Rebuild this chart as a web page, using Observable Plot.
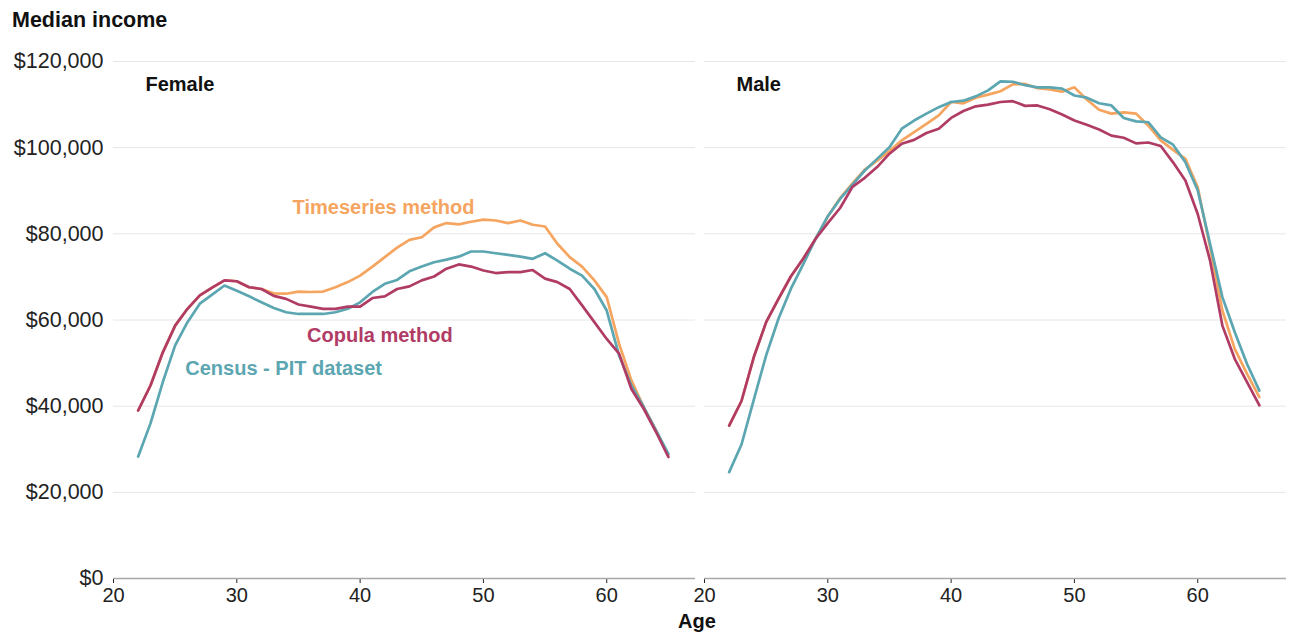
<!DOCTYPE html>
<html>
<head>
<meta charset="utf-8">
<script src="https://cdn.jsdelivr.net/npm/d3@7"></script>
<script src="https://cdn.jsdelivr.net/npm/@observablehq/plot@0.6"></script>
<style>
  html, body { margin: 0; padding: 0; background: #fff; }
  #wrap { position: relative; width: 1290px; height: 635px; font-family: "Liberation Sans", Arial, sans-serif; }
  #title { position: absolute; left: 12px; top: 8px; font-size: 21.5px; font-weight: bold; color: #111; }
  #xlabel { position: absolute; left: 697px; top: 610px; transform: translateX(-50%); font-size: 20px; font-weight: bold; color: #111; }
</style>
</head>
<body>
<div id="wrap">
  <div id="chart"></div>
  <div id="title">Median income</div>
  <div id="xlabel">Age</div>
</div>
<script>
// Ages (x categories)
const ages = [22,23,24,25,26,27,28,29,30,31,32,33,34,35,36,37,38,39,40,41,42,43,44,45,46,47,48,49,50,51,52,53,54,55,56,57,58,59,60,61,62,63,64,65];

const sexes = ["Female", "Male"];
const methods = ["Timeseries method", "Census - PIT dataset", "Copula method"];
const yTicks = [0, 20000, 40000, 60000, 80000, 100000, 120000];
const xTicks = [20, 30, 40, 50, 60];

// Median income, thousands of dollars
const femaleTimeseries = [39.0,44.8,52.5,58.7,62.6,65.7,67.5,69.2,69.0,67.6,67.2,66.2,66.1,66.6,66.5,66.6,67.6,68.8,70.3,72.4,74.6,76.8,78.6,79.2,81.5,82.5,82.2,82.8,83.3,83.1,82.5,83.1,82.1,81.7,77.7,74.6,72.4,69.2,65.3,54.5,46.0,39.8,34.4,28.5];
const femaleCensus = [28.3,36.0,45.6,54.1,59.5,63.8,65.9,68.0,66.8,65.5,64.1,62.8,61.8,61.4,61.4,61.4,61.8,62.6,64.1,66.5,68.4,69.3,71.3,72.4,73.4,74.0,74.7,75.9,75.9,75.5,75.1,74.7,74.2,75.5,73.8,71.9,70.3,67.2,62.2,51.8,44.8,39.8,34.4,28.9];
const femaleCopula = [39.0,44.8,52.5,58.7,62.6,65.7,67.5,69.2,69.0,67.6,67.2,65.6,64.9,63.6,63.1,62.6,62.6,63.1,63.1,65.1,65.5,67.2,67.8,69.2,70.1,71.9,72.9,72.4,71.5,70.9,71.1,71.1,71.6,69.6,68.8,67.2,63.4,59.5,55.6,52.2,44.0,39.4,34.0,28.2];

const maleTimeseries = [35.5,41.2,51.4,59.5,64.9,70.1,74.2,78.8,84.0,88.3,91.7,94.9,97.0,99.2,101.7,103.6,105.5,107.5,110.6,110.3,111.6,112.3,113.1,114.7,114.8,113.8,113.5,113.0,114.0,111.2,108.8,107.9,108.2,107.9,105.1,101.7,99.5,97.4,90.8,76.9,62.2,53.3,47.5,42.1];
const maleCensus = [24.7,31.1,41.5,51.8,60.3,67.2,72.9,78.8,84.1,88.1,91.4,94.7,97.4,100.1,104.4,106.3,107.9,109.4,110.6,110.9,111.9,113.3,115.4,115.3,114.5,114.0,114.0,113.7,112.1,111.6,110.3,109.8,106.9,106.1,105.9,102.4,100.7,96.6,90.1,77.7,65.3,57.2,49.8,43.6];
const maleCopula = [35.5,41.2,51.4,59.5,64.9,70.1,74.2,78.8,82.5,86.0,90.9,93.0,95.5,98.6,100.9,101.8,103.4,104.4,106.9,108.5,109.6,110.0,110.6,110.8,109.7,109.8,108.9,107.7,106.3,105.3,104.2,102.8,102.3,101.0,101.2,100.4,96.6,92.4,84.6,73.8,58.7,51.0,45.6,40.2];

// Series label annotations (age, income in thousands) on the Female panel
const labelText = ["Timeseries method", "Copula method", "Census - PIT dataset"];
const labelAge = [41.9, 41.6, 33.8];
const labelIncome = [86.1, 56.4, 48.7];

const colors = {"Timeseries method": "#f5a55f", "Census - PIT dataset": "#5ba6b1", "Copula method": "#b03c66"};

const seriesBy = {
  Female: {"Timeseries method": femaleTimeseries, "Census - PIT dataset": femaleCensus, "Copula method": femaleCopula},
  Male: {"Timeseries method": maleTimeseries, "Census - PIT dataset": maleCensus, "Copula method": maleCopula}
};

const rows = [];
for (const sex of sexes) {
  for (const m of methods) {
    seriesBy[sex][m].forEach((v, i) => rows.push({sex, method: m, age: ages[i], income: v * 1000}));
  }
}
const facetLabels = sexes.map(s => ({sex: s}));
const labels = labelText.map((t, i) => ({sex: "Female", method: t, age: labelAge[i], income: labelIncome[i] * 1000}));

const chart = Plot.plot({
  width: 1290,
  height: 635,
  marginTop: 61,
  marginBottom: 57,
  marginLeft: 113,
  marginRight: 3,
  style: {fontFamily: '"Liberation Sans", Arial, sans-serif', fontSize: "20px", color: "#222", background: "#fff"},
  fx: {domain: sexes, axis: null, paddingInner: 0.0152, paddingOuter: 0, label: null},
  x: {domain: [20, 67.2]},
  y: {domain: [0, 120000]},
  color: {domain: methods, range: methods.map(m => colors[m])},
  marks: [
    Plot.gridY(yTicks.slice(1), {stroke: "#e6e6e9", strokeOpacity: 1, strokeWidth: 1}),
    Plot.axisY({ticks: yTicks, tickSize: 0, tickPadding: 10, tickFormat: d3.format("$,"), label: null, fontSize: 21.5}),
    Plot.axisX({ticks: xTicks, tickSize: 5, tickPadding: 4, label: null, fontSize: 20}),
    Plot.ruleY([0], {stroke: "#a8a8a8", strokeWidth: 1.6}),
    Plot.line(rows, {fx: "sex", x: "age", y: "income", z: "method", stroke: "method", strokeWidth: 2.7, strokeLinejoin: "round"}),
    Plot.text(facetLabels, {fx: "sex", text: "sex", frameAnchor: "top-left", dx: 32, dy: 23, lineAnchor: "middle", textAnchor: "start", fontWeight: "bold", fontSize: 20, fill: "#111"}),
    Plot.text(labels, {fx: "sex", x: "age", y: "income", text: "method", fill: "method", fontWeight: "bold", fontSize: 20, textAnchor: "middle", lineAnchor: "middle"})
  ]
});
document.getElementById("chart").appendChild(chart);
</script>
</body>
</html>
